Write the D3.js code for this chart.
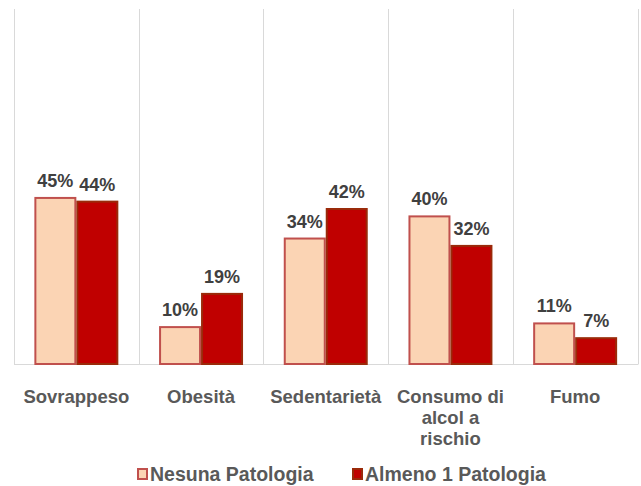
<!DOCTYPE html>
<html>
<head>
<meta charset="utf-8">
<script src="https://cdn.jsdelivr.net/npm/d3@7"></script>
<style>
  body { margin: 0; background: #fff; }
  text { font-family: "Liberation Sans", Arial, sans-serif; font-weight: bold; }
</style>
</head>
<body>
<div id="container"></div>
<script>
var categories = ["Sovrappeso", "Obesità", "Sedentarietà", "Consumo di alcol a rischio", "Fumo"];
var catLines = [["Sovrappeso"], ["Obesità"], ["Sedentarietà"], ["Consumo di", "alcol a", "rischio"], ["Fumo"]];
var seriesNames = ["Nesuna Patologia", "Almeno 1 Patologia"];
var nessuna = [45, 10, 34, 40, 11];
var almeno = [44, 19, 42, 32, 7];

var fills = ["#FBD4B4", "#C00000"];
var strokes = ["#C0504D", "#9A2A0A"];

var width = 641, height = 486;
var plotLeft = 14, plotRight = 637.5, plotTop = 9, base = 364;

var svg = d3.select('#container').append('svg')
  .attr('width', width).attr('height', height);

var x = d3.scaleBand().domain(categories).range([plotLeft, plotRight]);
var xi = d3.scaleBand().domain(seriesNames).range([0, x.bandwidth()]).paddingInner(0).paddingOuter(0.485);
var y = d3.scaleLinear().domain([0, 96.2]).range([base, plotTop]);

// separators between categories
var seps = categories.map(function(c) { return x(c); }).concat([plotRight]);
svg.selectAll('line.sep').data(seps).enter().append('line')
  .attr('x1', function(d) { return Math.round(d) + 0.5; }).attr('x2', function(d) { return Math.round(d) + 0.5; })
  .attr('y1', plotTop).attr('y2', base)
  .attr('stroke', '#d9d9d9').attr('stroke-width', 1);

svg.append('line')
  .attr('x1', plotLeft).attr('x2', plotRight + 1).attr('y1', base + 0.5).attr('y2', base + 0.5)
  .attr('stroke', '#d9d9d9');

var rows = categories.map(function(c, i) {
  return { cat: c, vals: [nessuna[i], almeno[i]] };
});

var g = svg.selectAll('g.cat').data(rows).enter().append('g')
  .attr('class', 'cat')
  .attr('transform', function(d) { return 'translate(' + x(d.cat) + ',0)'; });

var pairs = function(d) {
  return d.vals.map(function(v, k) { return { v: v, k: k }; });
};

g.selectAll('rect').data(pairs).enter().append('rect')
  .attr('x', function(d) { return xi(seriesNames[d.k]) + 1; })
  .attr('width', xi.bandwidth() - 2)
  .attr('y', function(d) { return y(d.v); })
  .attr('height', function(d) { return base - y(d.v); })
  .attr('fill', function(d) { return fills[d.k]; })
  .attr('stroke', function(d) { return strokes[d.k]; })
  .attr('stroke-width', 2);

g.selectAll('text.val').data(pairs).enter().append('text')
  .attr('class', 'val')
  .attr('x', function(d) { return xi(seriesNames[d.k]) + xi.bandwidth() / 2; })
  .attr('y', function(d) { return y(d.v) - 11; })
  .attr('text-anchor', 'middle')
  .attr('font-size', 18)
  .attr('fill', '#404040')
  .text(function(d) { return d.v + '%'; });

// category labels
svg.selectAll('text.catlab').data(catLines).enter().append('text')
  .attr('class', 'catlab')
  .attr('text-anchor', 'middle')
  .attr('font-size', 18.5)
  .attr('fill', '#595959')
  .each(function(lines, i) {
    var t = d3.select(this);
    lines.forEach(function(l, j) {
      t.append('tspan')
        .attr('x', x(categories[i]) + x.bandwidth() / 2)
        .attr('y', 403 + j * 21)
        .text(l);
    });
  });

// legend
var legX = [137, 352];
var leg = svg.selectAll('g.leg').data(seriesNames).enter().append('g')
  .attr('class', 'leg')
  .attr('transform', function(d, i) { return 'translate(' + legX[i] + ',468)'; });
leg.append('rect')
  .attr('x', 1).attr('y', 1).attr('width', 9).attr('height', 10)
  .attr('fill', function(d, i) { return fills[i]; })
  .attr('stroke', function(d, i) { return strokes[i]; })
  .attr('stroke-width', 2);
leg.append('text')
  .attr('x', 13).attr('y', 13)
  .attr('font-size', 19.5)
  .attr('fill', '#595959')
  .text(function(d) { return d; });
</script>
</body>
</html>
